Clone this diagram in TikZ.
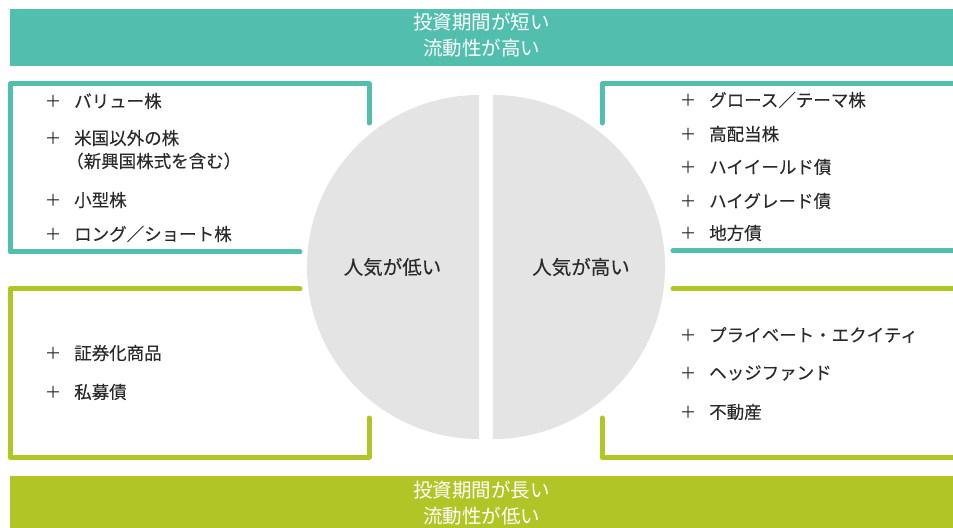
\documentclass[tikz,border=0pt]{standalone}
\usepackage{fontspec}
\newfontfamily\jp{Noto Sans CJK JP}
\newfontfamily\jpm[FakeBold=0.15]{Noto Sans CJK JP}
\definecolor{tealc}{HTML}{52BFAE}
\definecolor{limec}{HTML}{B2C526}
\definecolor{grayc}{HTML}{E4E4E4}
\definecolor{txtc}{HTML}{2A2A2A}
\begin{document}
\begin{tikzpicture}[x=1bp,y=-1bp,
  framet/.style={draw=tealc,line width=5bp,line cap=round,line join=round},
  framel/.style={draw=limec,line width=5bp,line cap=round,line join=round},
  item/.style={anchor=west,inner sep=0pt,text=txtc,font=\jpm\fontsize{17.5bp}{20bp}\selectfont},
  plusmark/.style={inner sep=0pt,text=txtc,font=\jp\fontsize{16.5bp}{20bp}\selectfont},
  bantext/.style={inner sep=0pt,text=white,font=\jp\fontsize{19.5bp}{22bp}\selectfont},
  midtext/.style={inner sep=0pt,text=txtc,font=\jpm\fontsize{19.5bp}{22bp}\selectfont}]
\useasboundingbox (0,0) rectangle (953,528);
% banners
\fill[tealc] (10,9) rectangle (953,66);
\fill[limec] (10,476) rectangle (953,528);
\node[bantext] (b1) at (481.5,22) {投資期間が短い};
\node[bantext] (b2) at (481.5,48) {流動性が高い};
\node[bantext] (b3) at (481.5,490) {投資期間が長い};
\node[bantext] (b4) at (481.5,516) {流動性が低い};
% half discs
\fill[grayc] (479,439) arc[start angle=-90,end angle=-270,radius=172bp] -- cycle;
\fill[grayc] (493,95) arc[start angle=90,end angle=-90,radius=172bp] -- cycle;
\node[midtext] (lo) at (392.5,267) {人気が低い};
\node[midtext] (hi) at (581,267) {人気が高い};
% frames
\draw[framet] (369,123) -- (369,84) -- (10,84) -- (10,252) -- (300,252);
\draw[framet] (602,123) -- (602,84) -- (960,84);
\draw[framet] (673,251) -- (960,251);
\draw[framel] (300,289) -- (10,289) -- (10,457) -- (369,457) -- (369,418);
\draw[framel] (673,289) -- (960,289);
\draw[framel] (602,418) -- (602,457) -- (960,457);
% left top items
\node[plusmark] (p1) at (53,101) {＋};
\node[item] (t1) at (74,101) {バリュー株};
\node[plusmark] (p2) at (53,138) {＋};
\node[item] (t2) at (74,138) {米国以外の株};
\node[item] (t2b) at (66,161) {（新興国株式を含む）};
\node[plusmark] (p3) at (53,200) {＋};
\node[item] (t3) at (74,200) {小型株};
\node[plusmark] (p4) at (53,234) {＋};
\node[item] (t4) at (74,234) {ロング／ショート株};
% left bottom items
\node[plusmark] (p5) at (53,353) {＋};
\node[item] (t5) at (74,353) {証券化商品};
\node[plusmark] (p6) at (53,392) {＋};
\node[item] (t6) at (74,392) {私募債};
% right top items
\node[plusmark] (q1) at (688,100) {＋};
\node[item] (u1) at (709,100) {グロース／テーマ株};
\node[plusmark] (q2) at (688,134) {＋};
\node[item] (u2) at (709,134) {高配当株};
\node[plusmark] (q3) at (688,167) {＋};
\node[item] (u3) at (709,167) {ハイイールド債};
\node[plusmark] (q4) at (688,201) {＋};
\node[item] (u4) at (709,201) {ハイグレード債};
\node[plusmark] (q5) at (688,233) {＋};
\node[item] (u5) at (709,233) {地方債};
% right bottom items
\node[plusmark] (q6) at (688,335) {＋};
\node[item] (u6) at (709,335) {プライベート・エクイティ};
\node[plusmark] (q7) at (688,373) {＋};
\node[item] (u7) at (709,373) {ヘッジファンド};
\node[plusmark] (q8) at (688,412) {＋};
\node[item] (u8) at (709,412) {不動産};
\end{tikzpicture}
\end{document}
